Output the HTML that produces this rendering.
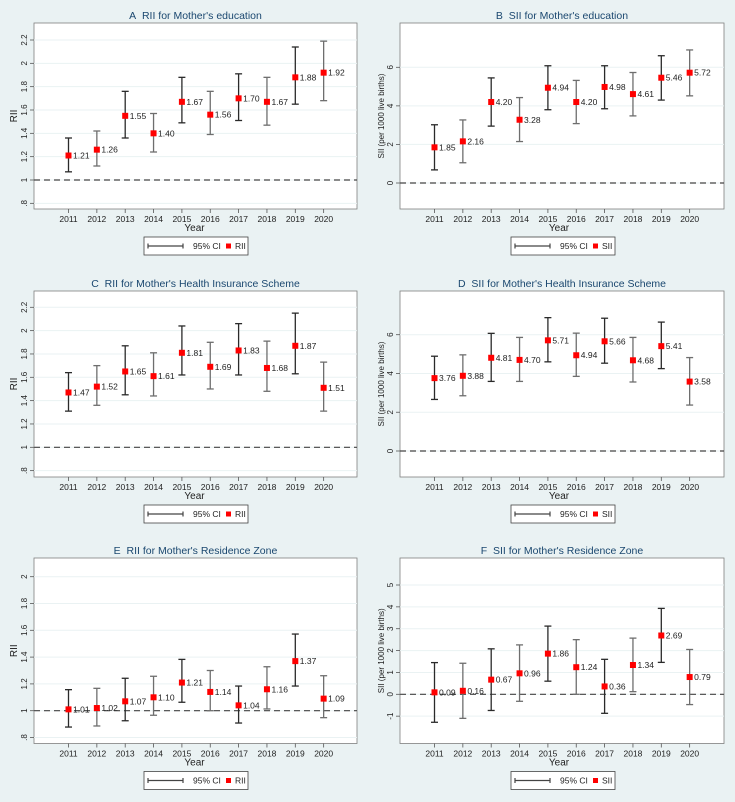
<!DOCTYPE html>
<html><head><meta charset="utf-8"><style>
html,body{margin:0;padding:0;background:#eaf2f3;}
svg{display:block;font-family:"Liberation Sans",Arial,sans-serif;}
</style></head><body>
<svg id="chart" width="735" height="802" viewBox="0 0 735 802" xmlns="http://www.w3.org/2000/svg">
<rect x="0" y="0" width="735" height="802" fill="#eaf2f3"/>
</svg>
<script>
const years = [2011,2012,2013,2014,2015,2016,2017,2018,2019,2020];
const aVal = [1.21,1.26,1.55,1.40,1.67,1.56,1.70,1.67,1.88,1.92];
const aLo  = [1.07,1.12,1.36,1.24,1.49,1.39,1.51,1.47,1.65,1.68];
const aHi  = [1.36,1.42,1.76,1.57,1.88,1.76,1.91,1.88,2.14,2.19];
const bVal = [1.85,2.16,4.20,3.28,4.94,4.20,4.98,4.61,5.46,5.72];
const bLo  = [0.68,1.05,2.95,2.15,3.80,3.08,3.85,3.48,4.30,4.52];
const bHi  = [3.02,3.27,5.45,4.43,6.08,5.32,6.08,5.73,6.60,6.90];
const cVal = [1.47,1.52,1.65,1.61,1.81,1.69,1.83,1.68,1.87,1.51];
const cLo  = [1.31,1.36,1.45,1.44,1.62,1.50,1.62,1.48,1.63,1.31];
const cHi  = [1.64,1.70,1.87,1.81,2.04,1.90,2.06,1.91,2.15,1.73];
const dVal = [3.76,3.88,4.81,4.70,5.71,4.94,5.66,4.68,5.41,3.58];
const dLo  = [2.66,2.85,3.59,3.59,4.60,3.85,4.53,3.56,4.25,2.37];
const dHi  = [4.89,4.96,6.07,5.86,6.88,6.08,6.85,5.86,6.65,4.82];
const eVal = [1.01,1.02,1.07,1.10,1.21,1.14,1.04,1.16,1.37,1.09];
const eLo  = [0.878,0.886,0.925,0.966,1.063,1.0,0.908,1.013,1.184,0.948];
const eHi  = [1.157,1.167,1.242,1.257,1.383,1.30,1.184,1.328,1.572,1.261];
const fVal = [0.09,0.16,0.67,0.96,1.86,1.24,0.36,1.34,2.69,0.79];
const fLo  = [-1.28,-1.10,-0.74,-0.32,0.60,0.0,-0.87,0.12,1.46,-0.47];
const fHi  = [1.45,1.42,2.08,2.26,3.12,2.50,1.60,2.57,3.93,2.05];
const ticksRII = [0.8,1,1.2,1.4,1.6,1.8,2,2.2];
const ticksRIIe = [0.8,1,1.2,1.4,1.6,1.8,2];
const ticksSII = [0,2,4,6];
const ticksSIIf = [-1,0,1,2,3,4,5];

const NS = "http://www.w3.org/2000/svg";
const svg = document.getElementById('chart');
function mk(tag, attrs, parent, text){
  const e = document.createElementNS(NS, tag);
  for (const k in attrs) e.setAttribute(k, attrs[k]);
  if (text !== undefined) e.textContent = text;
  (parent||svg).appendChild(e);
  return e;
}
function fmtTick(v){ let s = String(+v.toFixed(2)); if (s.startsWith('0.')) s = s.slice(1); if (s.startsWith('-0.')) s='-'+s.slice(2); return s; }

function panel(p){
  const g = mk('g', {transform:`translate(${p.ox},${p.oy})`});
  
  
  const L = p.left, R = 357, T = 23, B = p.bottom;
  const ys = (p.refY2 - p.refY1)/(p.refV2 - p.refV1);
  const yS = v => p.refY1 + (v - p.refV1)*ys;
  const x0 = L + 34.5, dx = 28.35;
  const xS = i => x0 + i*dx;
  const title = mk('text', {x:(L+R)/2, y:19, 'text-anchor':'middle', 'font-size':'10.5', fill:'#1a476f'}, g, p.title);
  
  
  const plot = mk('rect', {x:L, y:T, width:R-L, height:B-T, fill:'#fff', stroke:'#7f7f7f', 'stroke-width':'0.8'}, g);
  
  
  p.ticks.forEach(t => {
    const y = yS(t);
    mk('line', {x1:L, x2:R, y1:y, y2:y, stroke:'#eaf2f3', 'stroke-width':'1'}, g);
    mk('line', {x1:L-4, x2:L, y1:y, y2:y, stroke:'#555', 'stroke-width':'0.8'}, g);
    const tl = mk('text', {x:0, y:0, transform:`translate(${L-7},${y}) rotate(-90)`, 'text-anchor':'middle', 'font-size':'8', fill:'#222'}, g, fmtTick(t));
    
    
  });
  const ref = mk('line', {x1:L, x2:R, y1:yS(p.refLine), y2:yS(p.refLine), stroke:'#444', 'stroke-width':'1.2', 'stroke-dasharray':'6,4'}, g);
  
  
  const yt = mk('text', {x:0, y:0, transform:`translate(${p.ytX},${(T+B)/2}) rotate(-90)`, 'text-anchor':'middle', 'font-size':p.ytSize, fill:'#222'}, g, p.ytitle);
  
  
  years.forEach((yr, i) => {
    const x = xS(i);
    mk('line', {x1:x, x2:x, y1:B, y2:B+4, stroke:'#555', 'stroke-width':'0.8'}, g);
    const xl = mk('text', {x:x, y:B+13, 'text-anchor':'middle', 'font-size':'8.5', fill:'#222'}, g, String(yr));
    
    
    const col = (i % 2 === 0) ? '#2a2a2a' : '#6e6e6e';
    const eb = mk('g', {}, g);
    
    
    const yl = yS(p.lo[i]), yh = yS(p.hi[i]);
    mk('line', {x1:x, x2:x, y1:yl, y2:yh, stroke:col, 'stroke-width':'1.3'}, eb);
    mk('line', {x1:x-3.5, x2:x+3.5, y1:yl, y2:yl, stroke:col, 'stroke-width':'1.3'}, eb);
    mk('line', {x1:x-3.5, x2:x+3.5, y1:yh, y2:yh, stroke:col, 'stroke-width':'1.3'}, eb);
    const yv = yS(p.val[i]);
    const m = mk('rect', {x:x-3, y:yv-3, width:6, height:6, fill:'#f00'}, g);
    
    
    const vl = mk('text', {x:x+4.5, y:yv+3, 'font-size':'8.5', fill:'#222'}, g, p.val[i].toFixed(2));
    
    
  });
  const xt = mk('text', {x:(L+R)/2 + (L===33?-3:-1), y:B+22, 'text-anchor':'middle', 'font-size':'10', fill:'#222'}, g, 'Year');
  
  
  const lg = mk('g', {}, g);
  
  
  const ly = B + 28;
  mk('rect', {x:144, y:ly, width:104, height:18, fill:'#fff', stroke:'#444', 'stroke-width':'0.8'}, lg);
  mk('line', {x1:148, x2:183, y1:ly+9, y2:ly+9, stroke:'#444', 'stroke-width':'1.2'}, lg);
  mk('line', {x1:148, x2:148, y1:ly+6.5, y2:ly+11.5, stroke:'#444', 'stroke-width':'1.2'}, lg);
  mk('line', {x1:183, x2:183, y1:ly+6.5, y2:ly+11.5, stroke:'#444', 'stroke-width':'1.2'}, lg);
  mk('text', {x:193, y:ly+12, 'font-size':'8.5', fill:'#222'}, lg, '95% CI');
  mk('rect', {x:226, y:ly+6.5, width:5, height:5, fill:'#f00'}, lg);
  mk('text', {x:235, y:ly+12, 'font-size':'8.5', fill:'#222'}, lg, p.kind);
}

const SP = '\u00a0\u00a0';
panel({name:'panel-a', ox:0, oy:0, left:34, bottom:209, title:"A"+SP+"RII for Mother's education", ytitle:'RII', ytX:17, ytSize:'10', kind:'RII',
  refV1:1, refY1:180, refV2:2.2, refY2:40, ticks:ticksRII, refLine:1, val:aVal, lo:aLo, hi:aHi});
panel({name:'panel-b', ox:367, oy:0, left:33, bottom:209, title:"B"+SP+"SII for Mother's education", ytitle:'SII (per 1000 live births)', ytX:17, ytSize:'8', kind:'SII',
  refV1:0, refY1:183, refV2:6, refY2:67.3, ticks:ticksSII, refLine:0, val:bVal, lo:bLo, hi:bHi});
panel({name:'panel-c', ox:0, oy:268, left:34, bottom:209, title:"C"+SP+"RII for Mother's Health Insurance Scheme", ytitle:'RII', ytX:17, ytSize:'10', kind:'RII',
  refV1:1, refY1:179.3, refV2:2.2, refY2:39.3, ticks:ticksRII, refLine:1, val:cVal, lo:cLo, hi:cHi});
panel({name:'panel-d', ox:367, oy:268, left:33, bottom:209, title:"D"+SP+"SII for Mother's Health Insurance Scheme", ytitle:'SII (per 1000 live births)', ytX:17, ytSize:'8', kind:'SII',
  refV1:0, refY1:183, refV2:6, refY2:66.7, ticks:ticksSII, refLine:0, val:dVal, lo:dLo, hi:dHi});
panel({name:'panel-e', ox:0, oy:535, left:34, bottom:208.5, title:"E"+SP+"RII for Mother's Residence Zone", ytitle:'RII', ytX:17, ytSize:'10', kind:'RII',
  refV1:1, refY1:175.7, refV2:2, refY2:41.7, ticks:ticksRIIe, refLine:1, val:eVal, lo:eLo, hi:eHi});
panel({name:'panel-f', ox:367, oy:535, left:33, bottom:208.5, title:"F"+SP+"SII for Mother's Residence Zone", ytitle:'SII (per 1000 live births)', ytX:17, ytSize:'8', kind:'SII',
  refV1:0, refY1:159.3, refV2:5, refY2:50, ticks:ticksSIIf, refLine:0, val:fVal, lo:fLo, hi:fHi});
</script>
</body></html>
